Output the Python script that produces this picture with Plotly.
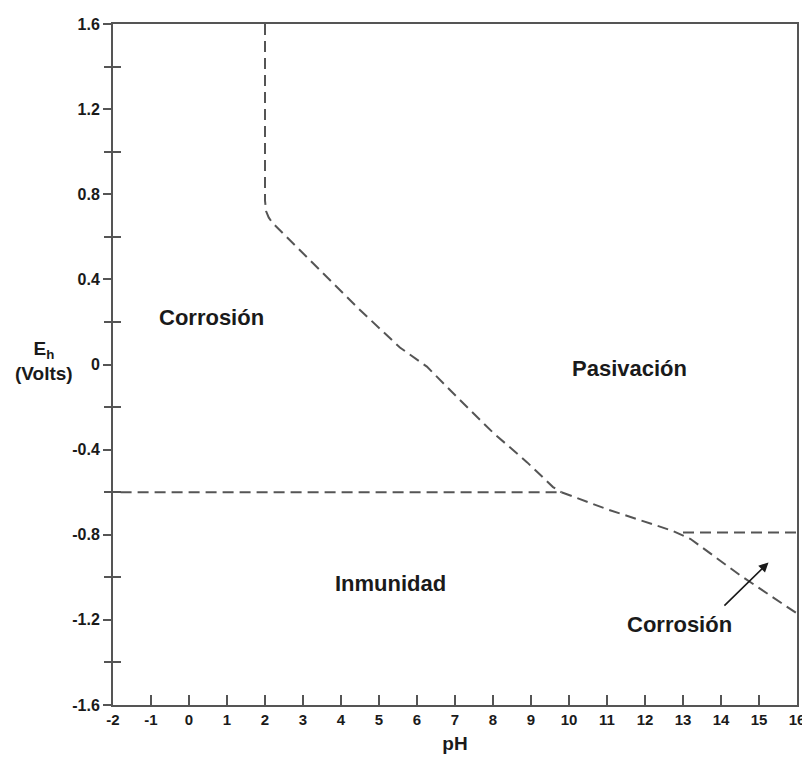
import plotly.graph_objects as go

# Boundary lines (pH, Eh)
ph_upper = [2.0, 2.0, 2.03, 2.1, 2.2, 2.9, 4.5, 5.55, 6.26, 7.13, 8.0, 8.9, 9.58, 9.8]
eh_upper = [1.6, 0.77, 0.72, 0.69, 0.665, 0.54, 0.256, 0.08, -0.01, -0.167, -0.32, -0.46, -0.576, -0.6]

ph_immun = [-1.8, 9.8]
eh_immun = [-0.6, -0.6]

ph_lower = [9.8, 11.0, 12.7, 13.2, 14.5, 16.0]
eh_lower = [-0.6, -0.68, -0.78, -0.82, -0.99, -1.17]

ph_pass2 = [13.0, 16.0]
eh_pass2 = [-0.79, -0.79]

x_ticks = list(range(-2, 17))
x_tick_text = [str(v) for v in x_ticks]
y_major = [-1.6, -1.2, -0.8, -0.4, 0, 0.4, 0.8, 1.2, 1.6]
y_major_text = ["-1.6", "-1.2", "-0.8", "-0.4", "0", "0.4", "0.8", "1.2", "1.6"]
y_minor = [-1.4, -1.0, -0.6, -0.2, 0.2, 0.6, 1.0, 1.4]

labels = ["Corrosión", "Pasivación", "Inmunidad", "Corrosión"]
label_x = [0.6, 11.6, 5.3, 12.9]
label_y = [0.22, -0.02, -1.03, -1.22]

FONT = "Liberation Sans, Arial, sans-serif"
LC = "#555555"
TC = "#1a1a1a"

fig = go.Figure()
for xs, ys in [(ph_upper, eh_upper), (ph_immun, eh_immun), (ph_lower, eh_lower), (ph_pass2, eh_pass2)]:
    fig.add_trace(go.Scatter(x=xs, y=ys, mode="lines",
                             line=dict(color=LC, width=2, dash="11px,6px"),
                             showlegend=False, hoverinfo="skip"))

# invisible trace to activate yaxis2 (minor ticks outside)
fig.add_trace(go.Scatter(x=[None], y=[None], yaxis="y2", showlegend=False, hoverinfo="skip"))

for t, x, y in zip(labels, label_x, label_y):
    fig.add_annotation(x=x, y=y, text="<b>" + t + "</b>", showarrow=False,
                       font=dict(family=FONT, size=22, color=TC))

# arrow for lower-right Corrosión
fig.add_annotation(x=15.25, y=-0.93, ax=14.05, ay=-1.14, axref="x", ayref="y",
                   text="", showarrow=True, arrowhead=2, arrowsize=1.2, arrowwidth=1.6,
                   arrowcolor=TC)

# y-axis title
fig.add_annotation(xref="paper", yref="paper", x=-0.101, y=0.505, xanchor="center", yanchor="middle",
                   text="<b>E<sub>h</sub></b><br><b>(Volts)</b>", showarrow=False, align="center",
                   font=dict(family=FONT, size=19, color=TC))

fig.update_layout(
    width=802, height=761,
    margin=dict(l=105, r=13, t=16, b=64),
    paper_bgcolor="white", plot_bgcolor="white",
    font=dict(family=FONT, size=15, color=TC),
    xaxis=dict(range=[-2, 16], tickvals=x_ticks,
               ticktext=["<b>" + t + "</b>" for t in x_tick_text],
               ticks="inside", ticklen=10, tickwidth=1.5,
               tickcolor=LC, showline=True, linecolor=LC, linewidth=2, mirror=True,
               showgrid=False, zeroline=False, automargin=False,
               tickfont=dict(family=FONT, size=15, color=TC),
               title=dict(text="<b>pH</b>", font=dict(family=FONT, size=19, color=TC), standoff=10)),
    yaxis=dict(range=[-1.6, 1.6], tickvals=y_major,
               ticktext=["<b>" + t + "</b>" for t in y_major_text], ticks="outside",
               ticklen=8, tickwidth=1.5, tickcolor=LC, showline=True, linecolor=LC, linewidth=2,
               mirror=True, showgrid=False, zeroline=False, automargin=False,
               tickfont=dict(family=FONT, size=16, color=TC),
               minor=dict(tickvals=y_minor, ticks="inside", ticklen=8, tickwidth=1.5, tickcolor=LC)),
    yaxis2=dict(range=[-1.6, 1.6], overlaying="y", side="left", tickvals=y_minor,
                ticks="outside", ticklen=8, tickwidth=1.5, tickcolor=LC, showticklabels=False,
                showline=False, showgrid=False, zeroline=False, automargin=False),
)

fig.write_html("out.html")
